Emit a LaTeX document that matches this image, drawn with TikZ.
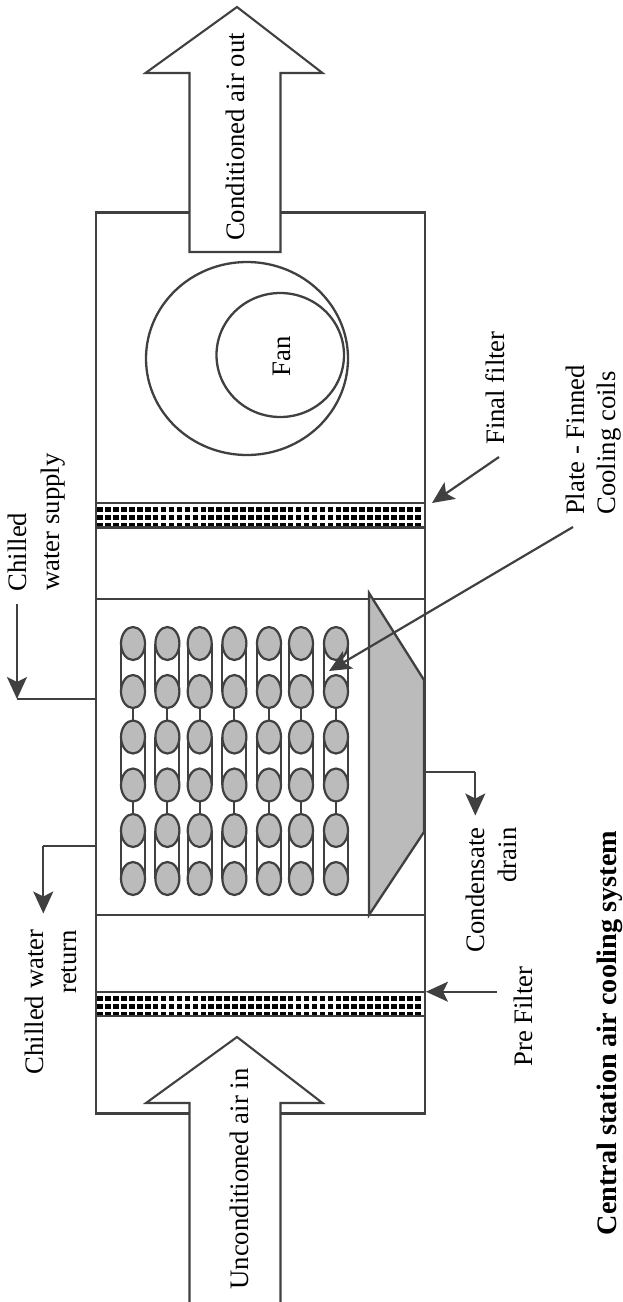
\documentclass[tikz,border=0pt]{standalone}
\usepackage{fontspec}
\setmainfont{Liberation Serif}
\usetikzlibrary{arrows.meta}
\definecolor{ln}{HTML}{404040}
\definecolor{gf}{HTML}{BBBBBB}
\tikzset{
  x=1pt,y=-1pt,
  wall/.style={draw=ln,line width=2.3pt,line join=miter},
  thin wall/.style={draw=ln,line width=2pt},
  airarrow/.style={draw=ln,line width=2.1pt,fill=white,line join=miter},
  pipe/.style={draw=ln,line width=2.1pt},
  coilo/.style={draw=ln,line width=2.2pt,fill=gf},
  lead/.style={draw=ln,line width=2.2pt,-{Stealth[length=22pt,width=20pt,inset=5pt]}},
  lab/.style={rotate=90,anchor=base,inner sep=0pt,font=\fontsize{26.7}{32}\selectfont,text=black},
  ttl/.style={lab,font=\fontsize{28.2}{32}\selectfont\bfseries},
}
\begin{document}
\begin{tikzpicture}
\useasboundingbox (0,0) rectangle (623,1302);
\fill[white] (0,0) rectangle (623,1302);
% casing
\draw[wall] (96,212.6) rectangle (425,1113.5);
% coil section
\draw[thin wall] (96,599) -- (425,599);
\draw[thin wall] (96,915) -- (425,915);
% drain pan
\draw[wall,fill=gf] (369,593) -- (424,680) -- (424,832) -- (369,915) -- cycle;
% filters
\foreach \t/\b in {503/527.5,992/1016}{
  \foreach \k in {0,...,40}{
    \pgfmathsetmacro{\xa}{97.3+7.94*\k}
    \pgfmathsetmacro{\xb}{\xa+5.6}
    \fill[black] (\xa,\t+3.7) rectangle (\xb,\t+9.3);
    \fill[black] (\xa,\t+12) rectangle (\xb,\t+17);
    \fill[black] (\xa,\t+20.3) rectangle (\xb,\b);
  }
  \draw[wall] (96,\t) -- (425,\t);
  \draw[wall] (96,\b) -- (425,\b);
}
% air arrows
\draw[airarrow] (189.5,252) -- (189.5,73) -- (145.5,73) -- (237,7) -- (322.5,73) -- (280.5,73) -- (280.5,252) -- cycle;
\draw[airarrow] (189.5,1303) -- (189.5,1103) -- (146,1103) -- (237,1037) -- (322.5,1103) -- (280.5,1103) -- (280.5,1303);
% fan
\draw[wall] (247,358.5) ellipse [x radius=101,y radius=96.5];
\draw[wall] (280.25,355) ellipse [x radius=63.75,y radius=62];
% coils
\foreach \cx in {133,167.4,199.7,234.4,269,301,336}{
  \foreach \cy in {643.5,737,830.5}{
    \pgfmathsetmacro{\cyb}{\cy+48}
    \draw[pipe] (\cx-12,\cy) -- (\cx-12,\cyb);
    \draw[pipe] (\cx+12,\cy) -- (\cx+12,\cyb);
    \draw[coilo] (\cx,\cy) ellipse [x radius=12,y radius=16.5];
    \draw[coilo] (\cx,\cyb) ellipse [x radius=12,y radius=16.5];
  }
  \draw[pipe] (\cx,708) -- (\cx,721);
  \draw[pipe] (\cx,801.5) -- (\cx,814);
}
% leaders
\coordinate (swTop) at (17,604);
\coordinate (swCorner) at (17,699);
\coordinate (swBox) at (96,699);
\draw[pipe] (swBox) -- (swCorner);
\draw[lead] (swTop) -- (swCorner);
\coordinate (rwBox) at (96,846);
\coordinate (rwCorner) at (43.3,846);
\coordinate (rwEnd) at (43.3,913.5);
\draw[pipe] (rwBox) -- (rwCorner);
\draw[lead] (rwCorner) -- (rwEnd);
\coordinate (cdBox) at (425,771.7);
\coordinate (cdCorner) at (475.3,771.7);
\coordinate (cdEnd) at (475.3,815.5);
\draw[pipe] (cdBox) -- (cdCorner);
\draw[lead] (cdCorner) -- (cdEnd);
\coordinate (pfStart) at (497,991.7);
\coordinate (pfEnd) at (426,991.7);
\draw[lead] (pfStart) -- (pfEnd);
\coordinate (ffStart) at (499,457);
\coordinate (ffEnd) at (432,503);
\draw[lead] (ffStart) -- (ffEnd);
\coordinate (pcStart) at (573,527);
\coordinate (pcEnd) at (329,671);
\draw[lead] (pcStart) -- (pcEnd);
% labels
\node[lab] (out) at (244,137) {Conditioned air out};
\node[lab] (in) at (248,1179) {Unconditioned air in};
\node[lab] (fan) at (290,356) {Fan};
\node[lab] (ff) at (504.5,388) {Final filter};
\node[lab] (pf1) at (584,440) {Plate - Finned};
\node[lab] (pf2) at (615,443) {Cooling coils};
\node[lab] (cw1) at (27,552) {Chilled};
\node[lab] (cw2) at (59,522) {water supply};
\node[lab] (cr1) at (43,1002) {Chilled water};
\node[lab] (cr2) at (76,962) {return};
\node[lab] (cd1) at (484,890) {Condensate};
\node[lab] (cd2) at (516,855) {drain};
\node[lab] (pre) at (532,1016.5) {Pre Filter};
\node[ttl] (title) at (616.5,1033) {Central station air cooling system};
\end{tikzpicture}
\end{document}
